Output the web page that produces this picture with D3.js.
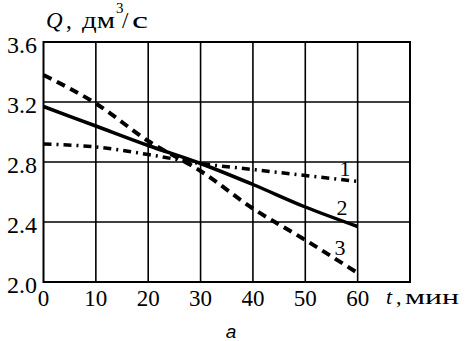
<!DOCTYPE html>
<html>
<head>
<meta charset="utf-8">
<script src="https://cdn.jsdelivr.net/npm/d3@7"></script>
<style>
  body { margin: 0; background: #fff; }
  svg { display: block; }
</style>
</head>
<body>
<svg width="465" height="341"></svg>
<script>

var times = [0, 10, 20, 30, 40, 50, 60];
var curve1 = [2.92, 2.90, 2.85, 2.79, 2.75, 2.71, 2.67];
var curve2 = [3.17, 3.04, 2.91, 2.79, 2.65, 2.50, 2.37];
var curve3 = [3.38, 3.19, 2.94, 2.74, 2.49, 2.28, 2.06];
var xTicks = [0, 10, 20, 30, 40, 50, 60];
var yTicks = [2.0, 2.4, 2.8, 3.2, 3.6];
var curveLabels = ['1', '2', '3'];

var svg = d3.select('svg');

var x = d3.scaleLinear().domain([0, 70]).range([43.5, 410]);
var y = d3.scaleLinear().domain([2.0, 3.6]).range([282, 42]);

var serif = '"Liberation Serif", "DejaVu Serif", serif';

// grid
svg.append('g')
	.selectAll('line')
	.data(d3.range(10, 70, 10))
	.enter().append('line')
	.attr('x1', function(d) { return x(d); })
	.attr('x2', function(d) { return x(d); })
	.attr('y1', y(3.6))
	.attr('y2', y(2.0))
	.style('stroke', '#000')
	.style('stroke-width', 1.6);

svg.append('g')
	.selectAll('line')
	.data([2.4, 2.8, 3.2])
	.enter().append('line')
	.attr('x1', x(0))
	.attr('x2', x(70))
	.attr('y1', function(d) { return y(d); })
	.attr('y2', function(d) { return y(d); })
	.style('stroke', '#000')
	.style('stroke-width', 1.6);

svg.append('rect')
	.attr('x', x(0))
	.attr('y', y(3.6))
	.attr('width', x(70) - x(0))
	.attr('height', y(2.0) - y(3.6))
	.style('fill', 'none')
	.style('stroke', '#000')
	.style('stroke-width', 2);

// tick labels
svg.append('g')
	.selectAll('text')
	.data(yTicks)
	.enter().append('text')
	.attr('x', 37)
	.attr('y', function(d) { return y(d) + 11; })
	.attr('text-anchor', 'end')
	.style('font-family', serif)
	.style('font-size', '24px')
	.text(function(d) { return d.toFixed(1); });

svg.append('g')
	.selectAll('text')
	.data(xTicks)
	.enter().append('text')
	.attr('x', function(d) { return x(d); })
	.attr('y', 306)
	.attr('text-anchor', 'middle')
	.style('font-family', serif)
	.style('font-size', '23px')
	.text(function(d) { return d; });

// curves
var line = d3.line()
	.x(function(d, i) { return x(times[i]); })
	.y(function(d) { return y(d); })
	.curve(d3.curveMonotoneX);

svg.append('path')
	.attr('d', line(curve1))
	.style('fill', 'none')
	.style('stroke', '#000')
	.style('stroke-width', 3.5)
	.style('stroke-dasharray', '8,5,2,5');

svg.append('path')
	.attr('d', line(curve2))
	.style('fill', 'none')
	.style('stroke', '#000')
	.style('stroke-width', 3.5);

svg.append('path')
	.attr('d', line(curve3))
	.style('fill', 'none')
	.style('stroke', '#000')
	.style('stroke-width', 4)
	.style('stroke-dasharray', '9,6');

// curve numbers
var labelX = [345, 342, 340];
var labelBase = [176, 215, 255];
svg.append('g')
	.selectAll('text')
	.data(curveLabels)
	.enter().append('text')
	.attr('x', function(d, i) { return labelX[i]; })
	.attr('y', function(d, i) { return labelBase[i]; })
	.attr('text-anchor', 'middle')
	.style('font-family', serif)
	.style('font-size', '22px')
	.text(function(d) { return d; });

// axis titles
var yTitle = svg.append('text')
	.attr('y', 28)
	.style('font-family', serif)
	.style('font-size', '23px');
yTitle.append('tspan').attr('x', 46).style('font-style', 'italic').text('Q');
yTitle.append('tspan').attr('x', 66).text(',');
yTitle.append('tspan').attr('x', 82)
	.attr('textLength', 33).attr('lengthAdjust', 'spacingAndGlyphs').text('дм');
yTitle.append('tspan').attr('x', 116).attr('y', 13).style('font-size', '15px').text('3');
yTitle.append('tspan').attr('x', 122).attr('y', 28).text('/');
yTitle.append('tspan').attr('x', 132)
	.attr('textLength', 16).attr('lengthAdjust', 'spacingAndGlyphs').text('с');

var xTitle = svg.append('text')
	.attr('y', 304)
	.style('font-family', serif)
	.style('font-size', '22px');
xTitle.append('tspan').attr('x', 386).style('font-style', 'italic').text('t');
xTitle.append('tspan').attr('x', 396).text(',');
xTitle.append('tspan').attr('x', 405)
	.attr('textLength', 54).attr('lengthAdjust', 'spacingAndGlyphs').text('мин');

svg.append('text')
	.attr('x', 231)
	.attr('y', 338)
	.attr('text-anchor', 'middle')
	.style('font-family', '"Liberation Sans", Arial, sans-serif')
	.style('font-style', 'italic')
	.style('font-size', '19px')
	.text('а');

</script>
</body>
</html>
